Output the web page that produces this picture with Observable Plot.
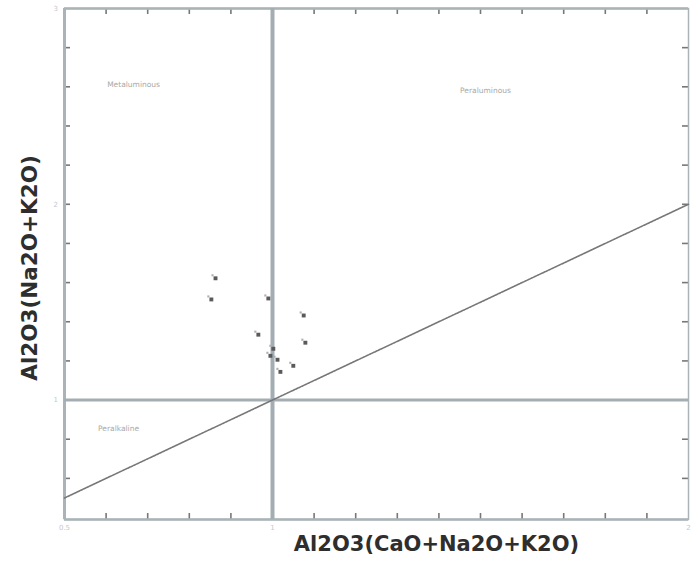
<!DOCTYPE html>
<html>
<head>
<meta charset="utf-8">
<script src="https://cdn.jsdelivr.net/npm/d3@7"></script>
<script src="https://cdn.jsdelivr.net/npm/@observablehq/plot@0.6"></script>
<style>
  html, body { margin: 0; padding: 0; background: #fff; }
  #chart svg { display: block; }
</style>
</head>
<body>
<div id="chart"></div>
<script>
// Shand index: A/CNK (x) against A/NK (y), molar ratios
const sampleACNK = [0.863, 0.853, 0.990, 1.075, 0.966, 1.079, 1.002, 0.995, 1.012, 1.050, 1.019];
const sampleANK  = [1.622, 1.514, 1.519, 1.432, 1.334, 1.293, 1.262, 1.226, 1.206, 1.175, 1.144];

const xDomain = [0.5, 2.0];
const yDomain = [0.39, 3.0];

const xMinorTicks = d3.range(6, 20).map(d => d / 10);       // 0.6 … 1.9
const yMinorTicks = d3.range(3, 15).map(d => d / 5);        // 0.6 … 2.8
const xTickLabels = [0.5, 1, 2];
const yTickLabels = [1, 2, 3];

const fieldNames = ["Metaluminous", "Peraluminous", "Peralkaline"];
const fieldX = [0.666, 1.512, 0.630];
const fieldY = [2.61, 2.58, 0.856];

const boundaryX = [0.5, 2.0];   // A/NK = A/CNK line

const samples = sampleACNK.map((x, i) => ({x, y: sampleANK[i]}));
const fields = fieldNames.map((name, i) => ({name, x: fieldX[i], y: fieldY[i]}));

const W = 698, H = 567;
const mTop = 8, mBottom = 48, mLeft = 64, mRight = 10;
const innerH = H - mTop - mBottom;
const innerW = W - mLeft - mRight;

const frameGrey = "#aab3b6";

const chart = Plot.plot({
  width: W,
  height: H,
  marginTop: mTop,
  marginBottom: mBottom,
  marginLeft: mLeft,
  marginRight: mRight,
  x: {domain: xDomain, axis: null},
  y: {domain: yDomain, axis: null},
  style: {fontFamily: "DejaVu Sans, sans-serif", background: "#fff"},
  marks: [
    // inward ticks on all four sides
    Plot.tickX(xMinorTicks, {x: d => d, insetTop: innerH - 6, stroke: "#777", strokeWidth: 1.6}),
    Plot.tickX(xMinorTicks, {x: d => d, insetBottom: innerH - 6, stroke: "#777", strokeWidth: 1.6}),
    Plot.tickY(yMinorTicks, {y: d => d, insetRight: innerW - 6, stroke: "#777", strokeWidth: 1.6}),
    Plot.tickY(yMinorTicks, {y: d => d, insetLeft: innerW - 6, stroke: "#777", strokeWidth: 1.6}),

    // plot frame
    Plot.frame({stroke: frameGrey, strokeWidth: 1.5}),
    Plot.ruleX([xDomain[0]], {stroke: frameGrey, strokeWidth: 3}),
    Plot.ruleY([yDomain[0]], {stroke: frameGrey, strokeWidth: 2.5}),
    Plot.ruleY([yDomain[1]], {stroke: frameGrey, strokeWidth: 2.5}),

    // field boundaries
    Plot.ruleX([1], {stroke: "#a4aeb2", strokeWidth: 4}),
    Plot.ruleY([1], {stroke: "#a4aeb2", strokeWidth: 3}),
    Plot.line(boundaryX, {x: d => d, y: d => d, stroke: "#777", strokeWidth: 1.6, strokeDasharray: "2.5,1"}),

    // field names
    Plot.text(fields, {x: "x", y: "y", text: "name", fontSize: 7.5, fill: "#a8a8a8"}),

    // tick labels
    Plot.text(xTickLabels, {x: d => d, frameAnchor: "bottom", dy: 10, text: d => String(d), fontSize: 7, fill: "#c8c8c8"}),
    Plot.text(yTickLabels, {y: d => d, frameAnchor: "left", dx: -11, text: d => String(d), fontSize: 7, fill: "#c8c8c8"}),

    // samples
    Plot.dot(samples, {x: "x", y: "y", symbol: "square", r: 2.2, fill: "#5a5a5a", stroke: "none"}),
    Plot.dot(samples, {x: "x", y: "y", symbol: "square", r: 1.2, dx: -3, dy: -3, fill: "#b0b0b0", stroke: "none"}),

    // axis titles
    Plot.text(["Al2O3(CaO+Na2O+K2O)"], {frameAnchor: "bottom", dx: 60, dy: 31, text: d => d, fontSize: 21, fontWeight: "bold", fill: "#2e2e2e"}),
    Plot.text(["Al2O3(Na2O+K2O)"], {frameAnchor: "left", textAnchor: "middle", dx: -34, dy: 4, rotate: -90, text: d => d, fontSize: 21.5, fontWeight: "bold", fill: "#2e2e2e"})
  ]
});

document.getElementById("chart").appendChild(chart);
</script>
</body>
</html>
